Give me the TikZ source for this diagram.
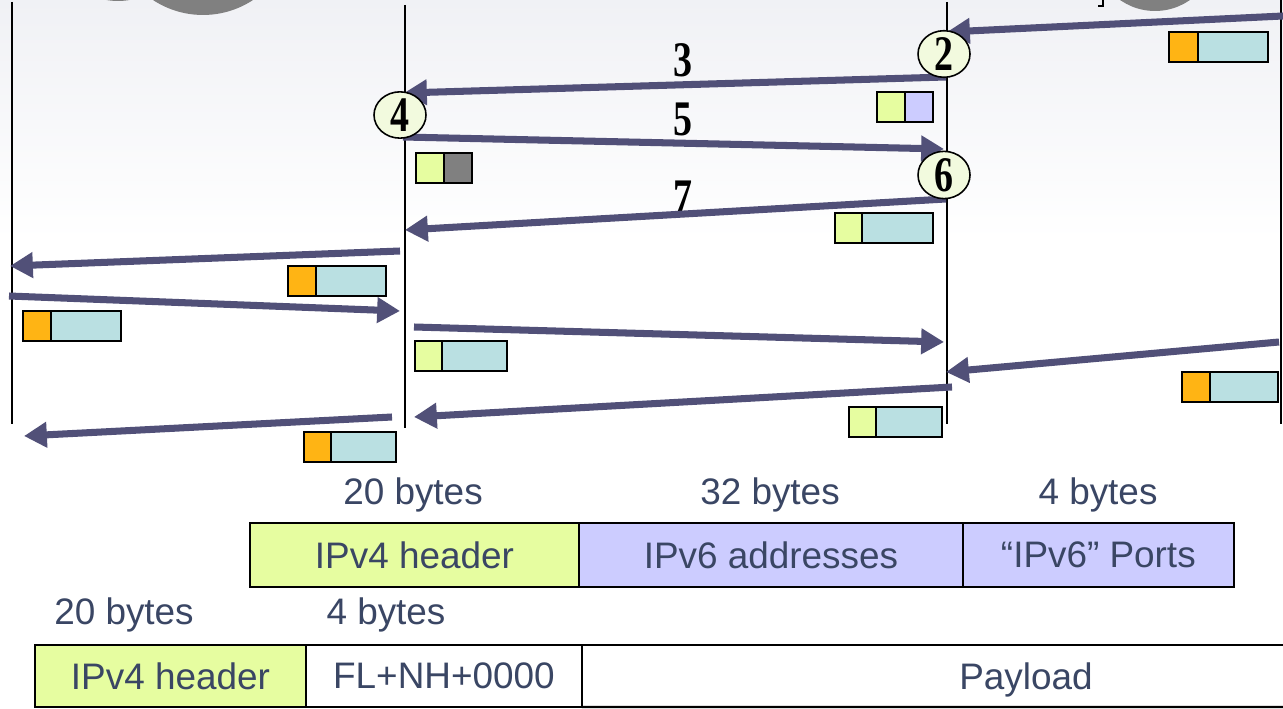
\documentclass[tikz,border=0pt]{standalone}
\usepackage{fontspec}
\setmainfont{Liberation Sans}
\newfontfamily\numfont{Liberation Serif}
\usetikzlibrary{shapes.geometric,arrows.meta}

\definecolor{msgblue}{RGB}{81,80,120}
\definecolor{vfourgreen}{RGB}{230,253,160}
\definecolor{vsixlav}{RGB}{204,204,255}
\definecolor{paycyan}{RGB}{186,224,226}
\definecolor{tunorange}{RGB}{255,180,20}
\definecolor{ballfill}{RGB}{242,250,222}
\definecolor{labeltext}{RGB}{58,70,100}
\definecolor{bgtop}{RGB}{240,241,245}
\definecolor{hostgrey}{RGB}{128,128,128}

\tikzset{
msg/.style={draw=msgblue, line width=4pt,
    -{Triangle[length=13pt,width=14pt]}},
lifeline/.style={line width=0.9pt},
stepball/.style={draw, line width=0.9pt, ellipse, fill=ballfill,
    inner sep=0pt, minimum width=1.04cm, minimum height=0.76cm,
    font=\numfont\bfseries\fontsize{24}{24}\selectfont},
steplabel/.style={font=\numfont\bfseries\fontsize{24}{24}\selectfont},
cell/.style={draw, line width=1.2pt, anchor=north west, inner sep=0pt,
    outer sep=0pt, text=labeltext, font=\fontsize{21}{25}\selectfont},
bytes/.style={text=labeltext, font=\fontsize{21}{25}\selectfont},
half/.style={draw, line width=1.2pt, anchor=north west, inner sep=0pt,
    outer sep=0pt, minimum height=0.6cm}
}

% tall narrow step digit
\newcommand{\stepnum}[1]{\raisebox{-0.07cm}{\scalebox{0.9}[1.18]{#1}}}

% packet: name, x, y, left colour, right colour, left width, right width
\newcommand{\pkt}[7]{%
  \node[half, fill=#4, minimum width=#6*0.02cm] (#1a) at (#2,#3) {};
  \node[half, fill=#5, minimum width=#7*0.02cm] (#1b) at (#1a.north east) {};
}

\begin{document}
\begin{tikzpicture}[x=0.02cm, y=-0.02cm]
	\useasboundingbox (0,0) rectangle (1283,709);
	\fill[white] (0,0) rectangle (1283,709);
	\shade[top color=bgtop, bottom color=white] (0,0) rectangle (1283,240);

	% hosts cut off at the top
	\fill[hostgrey] (118,-65) circle[radius=1.32cm];
	\fill[hostgrey] (203,-76) circle[radius=1.82cm];
	\fill[hostgrey] (1155,-50) circle[radius=1.22cm];
	\draw[line width=0.6pt] (1103,0) -- (1103,6) -- (1098,6);

	% lifelines
	\draw[lifeline] (12,2) -- (12,424);
	\draw[lifeline] (405,5) -- (405,428);
	\draw[lifeline] (947,2) -- (947,424);
	\draw[lifeline] (1281,0) -- (1281,424);

	% packets
	\pkt{p1}{1169}{32}{tunorange}{paycyan}{29}{70}
	\pkt{p2}{877}{92}{vfourgreen}{vsixlav}{28}{28}
	\pkt{p3}{416}{153}{vfourgreen}{hostgrey}{28}{28}
	\pkt{p4}{835}{213}{vfourgreen}{paycyan}{27}{71}
	\pkt{p5}{288}{266}{tunorange}{paycyan}{28}{70}
	\pkt{p6}{23}{311}{tunorange}{paycyan}{28}{70}
	\pkt{p7}{415}{341}{vfourgreen}{paycyan}{27}{65}
	\pkt{p8}{1182}{372}{tunorange}{paycyan}{28}{68}
	\pkt{p9}{849}{407}{vfourgreen}{paycyan}{27}{66}
	\pkt{p10}{304}{432}{tunorange}{paycyan}{27}{65}

	% step numbers
	\node[steplabel] (n3) at (683,60) {\stepnum{3}};
	\node[steplabel] (n5) at (683,119) {\stepnum{5}};
	\node[steplabel] (n7) at (683,197) {\stepnum{7}};

	% message ends
	\coordinate (m1s) at (1283,16);  \coordinate (m1e) at (947,32);
	\coordinate (m3s) at (946,77);   \coordinate (m3e) at (404,93);
	\coordinate (m5s) at (403,137);  \coordinate (m5e) at (944,149);
	\coordinate (m7s) at (946,199);  \coordinate (m7e) at (405,230);
	\coordinate (m8s) at (400,251);  \coordinate (m8e) at (10,266);
	\coordinate (m9s) at (9,296);    \coordinate (m9e) at (400,311);
	\coordinate (m10s) at (414,327); \coordinate (m10e) at (944,342);
	\coordinate (m11s) at (1279,342); \coordinate (m11e) at (946,372);
	\coordinate (m12s) at (952,387); \coordinate (m12e) at (414,417);
	\coordinate (m13s) at (392,417); \coordinate (m13e) at (24,436);

	\draw[msg] (m1s) -- (m1e);
	\draw[msg] (m3s) -- (m3e);
	\draw[msg] (m5s) -- (m5e);
	\draw[msg] (m7s) -- (m7e);
	\draw[msg] (m8s) -- (m8e);
	\draw[msg] (m9s) -- (m9e);
	\draw[msg] (m10s) -- (m10e);
	\draw[msg] (m11s) -- (m11e);
	\draw[msg] (m12s) -- (m12e);
	\draw[msg] (m13s) -- (m13e);

	\node[stepball] (s2) at (944,54) {\stepnum{2}};
	\node[stepball] (s4) at (400,115) {\stepnum{4}};
	\node[stepball] (s6) at (944,175) {\stepnum{6}};

	% header formats
	\node[bytes] (b20a) at (413,495) {20 bytes};
	\node[bytes] (b32) at (770,495) {32 bytes};
	\node[bytes] (b4a) at (1098,495) {4 bytes};
	\node[cell, fill=vfourgreen, minimum width=6.58cm, minimum height=1.28cm]
		(hdr) at (250,523) {IPv4 header};
	\node[cell, fill=vsixlav, minimum width=7.68cm, minimum height=1.28cm]
		(addr) at (hdr.north east) {IPv6 addresses};
	\node[cell, fill=vsixlav, minimum width=5.42cm, minimum height=1.28cm]
		(ports) at (addr.north east) {“IPv6” Ports};

	\node[bytes] (b20b) at (124,615) {20 bytes};
	\node[bytes] (b4b) at (386,615) {4 bytes};
	\node[cell, fill=vfourgreen, minimum width=5.42cm, minimum height=1.24cm]
		(vfour) at (35,645) {IPv4 header};
	\node[cell, minimum width=5.52cm, minimum height=1.24cm]
		(flnh) at (vfour.north east) {FL+NH+0000};
	\draw[line width=1.2pt] (flnh.north east) -- (1283,645);
	\draw[line width=1.2pt] (flnh.south east) -- (1283,707);
	\node[bytes] (payload) at (1026,680) {Payload};
\end{tikzpicture}
\end{document}
